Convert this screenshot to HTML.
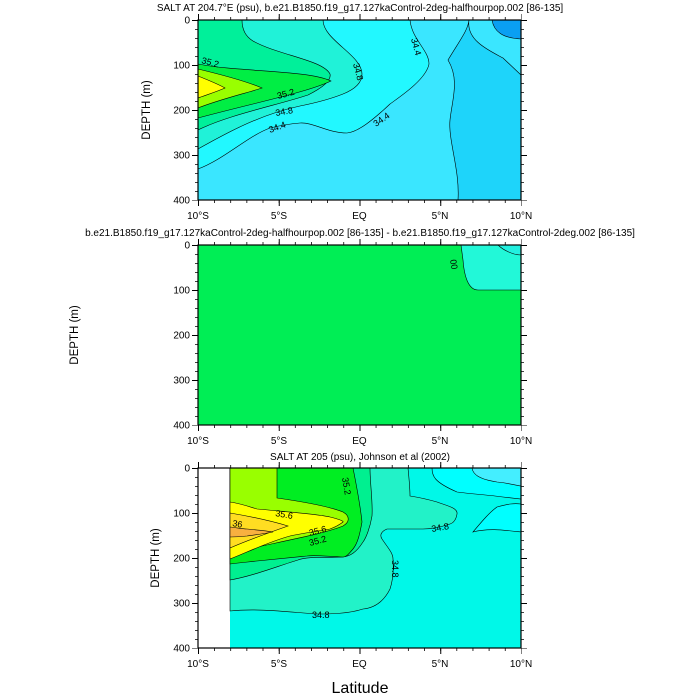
<!DOCTYPE html>
<html><head><meta charset="utf-8"><style>
body{margin:0;background:#fff}
svg{display:block;font-family:"Liberation Sans",sans-serif}
</style></head><body>
<svg width="700" height="700" viewBox="0 0 700 700">
<defs>
<g id="ticks">
<line x1="0" y1="181.5" x2="323.5" y2="181.5" stroke="#000" stroke-width="3" stroke-dasharray="0.8 15.35"/>
<line x1="0" y1="183" x2="323.5" y2="183" stroke="#000" stroke-width="6" stroke-dasharray="1 79.75"/>
<line x1="0" y1="-1.5" x2="323.5" y2="-1.5" stroke="#000" stroke-width="3" stroke-dasharray="0.8 15.35"/>
<line x1="0" y1="-3" x2="323.5" y2="-3" stroke="#000" stroke-width="6" stroke-dasharray="1 79.75"/>
<line x1="-1.5" y1="0" x2="-1.5" y2="180.5" stroke="#000" stroke-width="3" stroke-dasharray="0.8 8.2"/>
<line x1="-3" y1="0" x2="-3" y2="180.5" stroke="#000" stroke-width="6" stroke-dasharray="1 44"/>
<line x1="324.5" y1="0" x2="324.5" y2="180.5" stroke="#000" stroke-width="3" stroke-dasharray="0.8 8.2"/>
<line x1="326" y1="0" x2="326" y2="180.5" stroke="#000" stroke-width="6" stroke-dasharray="1 44"/>
<rect x="0" y="0" width="323" height="180" fill="none" stroke="#000" stroke-width="1.2"/>
<g font-size="10" text-anchor="end">
<text x="-8" y="3.5">0</text><text x="-8" y="48.5">100</text><text x="-8" y="93.5">200</text><text x="-8" y="138.5">300</text><text x="-8" y="183.5">400</text>
</g>
<g font-size="10" text-anchor="middle">
<text x="0" y="199">10°S</text><text x="81" y="199">5°S</text><text x="161.5" y="199">EQ</text><text x="242" y="199">5°N</text><text x="323" y="199">10°N</text>
</g>
</g>
</defs>

<!-- TOP PANEL -->
<g transform="translate(198,20)">
<rect width="323" height="180" fill="#3ae6ff"/>
<path d="M271,0 C268,20 290,30 305,38 L323,55 L323,180 L260,180 C262,150 250,120 252,100 C254,80 262,60 250,40 C262,20 270,10 271,0Z" fill="#1ed4fa" stroke="#000" stroke-width="0.6"/>
<path d="M294,0 C296,12 305,18 323,19 L323,0Z" fill="#0a9ff2" stroke="#000" stroke-width="0.6"/>
<path d="M0,0 L212,0 C214,20 231,30 231,44 C228,60 200,78 192,84 C175,100 160,112 149,113 C130,113 115,102 102,103 C90,104 80,106 72,108 C50,116 25,140 0,149Z" fill="#22f8ff" stroke="#000" stroke-width="0.6"/>
<path d="M0,0 L125,0 C125,20 164,35 164,54 C164,66 150,72 145,74 C130,80 112,84 102,86 C60,95 25,115 0,129Z" fill="#20f2d8" stroke="#000" stroke-width="0.6"/>
<path d="M0,0 L44,0 C44,12 50,18 55,21 C80,35 125,40 132,54 C134,62 120,70 110,75 C80,85 30,95 0,110Z" fill="#00f09a" stroke="#000" stroke-width="0.6"/>
<path d="M0,44 C40,52 110,50 133,61 C110,72 60,82 0,98Z" fill="#00ee44" stroke="#000" stroke-width="0.6"/>
<path d="M0,49 C25,55 50,62 64,68 C45,74 20,80 0,88Z" fill="#99ff00" stroke="#000" stroke-width="0.6"/>
<path d="M0,56 C10,60 20,64 27,68 C18,72 8,75 0,78Z" fill="#ffff00" stroke="#000" stroke-width="0.6"/>
<g font-size="9" fill="#000">
<text x="3" y="43" transform="rotate(15 3 43)">35.2</text>
<text x="80" y="79" transform="rotate(-15 80 79)">35.2</text>
<text x="78" y="96" transform="rotate(-10 78 96)">34.8</text>
<text x="72" y="113" transform="rotate(-20 72 113)">34.4</text>
<text x="155" y="44" transform="rotate(75 155 44)">34.8</text>
<text x="213" y="19" transform="rotate(75 213 19)">34.4</text>
<text x="178" y="107" transform="rotate(-35 178 107)">34.4</text>
</g>
<use href="#ticks"/>
</g>
<text x="360" y="11" font-size="10" text-anchor="middle">SALT AT 204.7°E (psu), b.e21.B1850.f19_g17.127kaControl-2deg-halfhourpop.002 [86-135]</text>
<text transform="translate(150,110) rotate(-90)" font-size="11.5" text-anchor="middle">DEPTH (m)</text>

<!-- MIDDLE PANEL -->
<g transform="translate(198,245)">
<rect width="323" height="180" fill="#00ee55"/>
<path d="M263,0 L323,0 L323,45 L280,45 C270,45 266,30 265,15Z" fill="#22f8d8" stroke="#000" stroke-width="0.6"/>
<path d="M300,0 L323,0 L323,10 C315,10 305,5 300,0Z" fill="#22f0e0" stroke="#000" stroke-width="0.6"/>
<text x="252" y="15" font-size="9" transform="rotate(80 252 15)">00</text>
<use href="#ticks"/>
</g>
<text x="360" y="236" font-size="10" text-anchor="middle">b.e21.B1850.f19_g17.127kaControl-2deg-halfhourpop.002 [86-135] - b.e21.B1850.f19_g17.127kaControl-2deg.002 [86-135]</text>
<text transform="translate(78,335) rotate(-90)" font-size="11.5" text-anchor="middle">DEPTH (m)</text>

<!-- BOTTOM PANEL -->
<g transform="translate(198,468)">
<rect x="32" width="291" height="180" fill="#00f8e8"/>
<path d="M234,0 C234,8 236,14 259,24 C275,26 290,27 305,29 L323,31 L323,0Z" fill="#00ffff" stroke="#000" stroke-width="0.6"/>
<path d="M274,0 C275,6 280,11 299,14 C310,15 316,17 323,18 L323,0Z" fill="#44eeff" stroke="#000" stroke-width="0.6"/>
<path d="M275,64 C285,52 292,44 299,39 C310,36 316,35 323,36 L323,64 C305,62 290,60 275,64Z" fill="#00ffff" stroke="#000" stroke-width="0.6"/>
<path d="M32,0 L210,0 C211,10 212,20 212,28 C225,30 232,32 239,34 C250,38 260,40 259,46 C258,52 255,55 252,56 C240,60 232,61 225,61 L189,61 C182,64 182,68 184,71 C190,80 195,85 195,91 C196,105 194,115 192,121 C185,135 175,140 165,141 C150,146 130,146 119,146 C90,144 60,140 32,143Z" fill="#22f2c8" stroke="#000" stroke-width="0.6"/>
<path d="M32,0 L172,0 C172,15 175,35 174,48 C172,60 168,70 165,74 C158,85 152,88 145,89 C130,90 110,88 100,92 C80,98 55,108 32,112Z" fill="#00f090" stroke="#000" stroke-width="0.6"/>
<path d="M32,0 L155,0 C158,15 162,35 164,54 C162,65 160,75 155,81 C150,87 148,89 145,89 C125,88 115,87 109,88 C90,90 70,92 59,93 C50,94 40,95 32,96Z" fill="#00ee22" stroke="#000" stroke-width="0.6"/>
<path d="M32,0 L79,0 L79,30 C100,33 130,38 145,44 C152,48 152,54 145,58 C125,66 90,72 32,85Z" fill="#99ff00" stroke="#000" stroke-width="0.6"/>
<path d="M32,34 C45,36 55,40 59,41 C90,44 120,46 132,49 C140,51 146,53 145,54 C140,58 132,61 132,61 C115,64 100,66 92,68 C70,74 50,84 32,91Z" fill="#ffff00" stroke="#000" stroke-width="0.6"/>
<path d="M32,45 C50,48 70,52 90,58 C70,65 50,72 32,80Z" fill="#ffdd22" stroke="#000" stroke-width="0.6"/>
<path d="M32,59 C40,60 45,61 49,61 C60,62 70,63 75,64 C65,66 55,67 49,68 C40,69 35,69 32,69Z" fill="#f8b040" stroke="#000" stroke-width="0.6"/>
<g font-size="9">
<text x="77" y="48" transform="rotate(10 77 48)">35.6</text>
<text x="34" y="58" transform="rotate(10 34 58)">36</text>
<text x="112" y="68" transform="rotate(-15 112 68)">35.6</text>
<text x="112" y="78" transform="rotate(-15 112 78)">35.2</text>
<text x="144" y="10" transform="rotate(80 144 10)">35.2</text>
<text x="234" y="64" transform="rotate(-10 234 64)">34.8</text>
<text x="194" y="92" transform="rotate(90 194 92)">34.8</text>
<text x="114" y="150">34.8</text>
</g>
<use href="#ticks"/>
</g>
<text x="360" y="460" font-size="10" text-anchor="middle">SALT AT 205 (psu), Johnson et al (2002)</text>
<text transform="translate(159,558) rotate(-90)" font-size="11.5" text-anchor="middle">DEPTH (m)</text>

<text x="360" y="693" font-size="16" text-anchor="middle">Latitude</text>
</svg>
</body></html>
